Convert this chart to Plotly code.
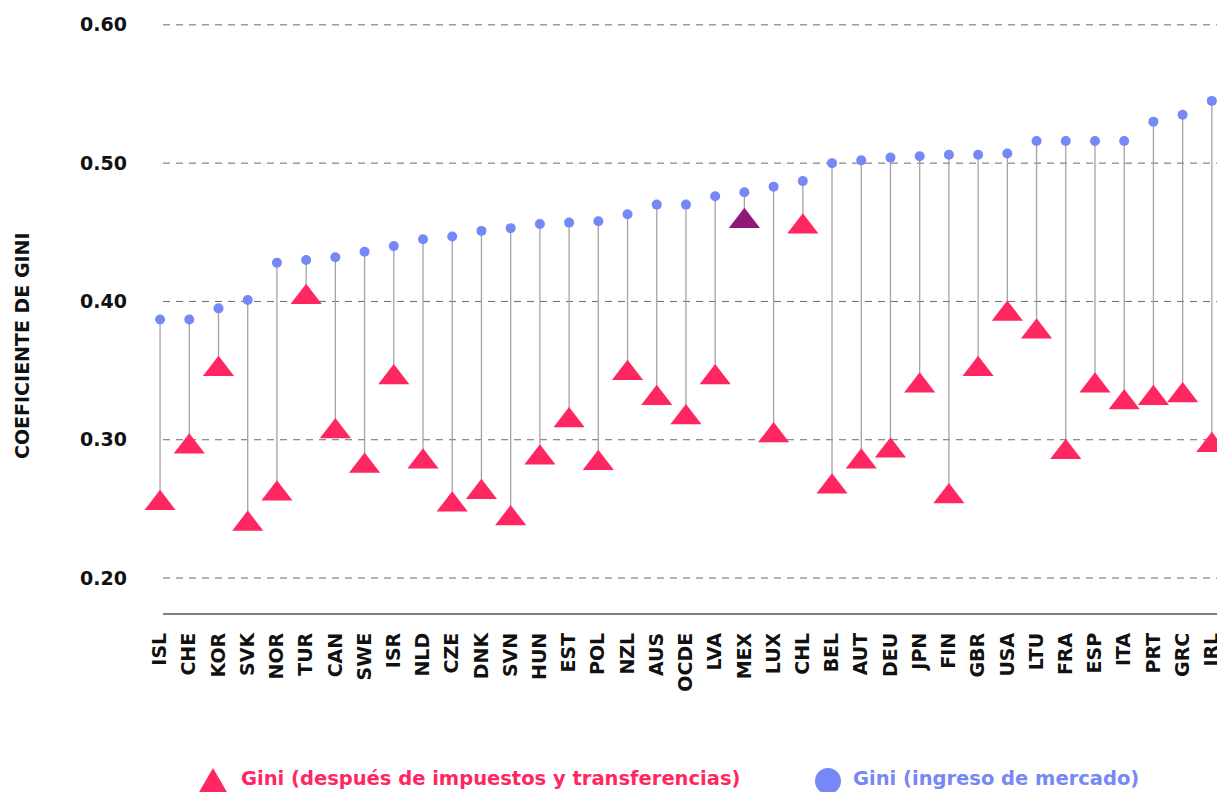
import plotly.graph_objects as go

countries = ["ISL", "CHE", "KOR", "SVK", "NOR", "TUR", "CAN", "SWE", "ISR", "NLD",
             "CZE", "DNK", "SVN", "HUN", "EST", "POL", "NZL", "AUS", "OCDE", "LVA",
             "MEX", "LUX", "CHL", "BEL", "AUT", "DEU", "JPN", "FIN", "GBR", "USA",
             "LTU", "FRA", "ESP", "ITA", "PRT", "GRC", "IRL"]

gini_market = [0.387, 0.387, 0.395, 0.401, 0.428, 0.430, 0.432, 0.436, 0.440, 0.445,
               0.447, 0.451, 0.453, 0.456, 0.457, 0.458, 0.463, 0.470, 0.470, 0.476,
               0.479, 0.483, 0.487, 0.500, 0.502, 0.504, 0.505, 0.506, 0.506, 0.507,
               0.516, 0.516, 0.516, 0.516, 0.530, 0.535, 0.545]

gini_after = [0.254, 0.295, 0.351, 0.239, 0.261, 0.403, 0.306, 0.281, 0.345, 0.284,
              0.253, 0.262, 0.243, 0.287, 0.314, 0.283, 0.348, 0.330, 0.316, 0.345,
              0.458, 0.303, 0.454, 0.266, 0.284, 0.292, 0.339, 0.259, 0.351, 0.391,
              0.378, 0.291, 0.339, 0.327, 0.330, 0.332, 0.296]

highlight = "MEX"

y_ticks = [0.20, 0.30, 0.40, 0.50, 0.60]
y_tick_labels = ["0.20", "0.30", "0.40", "0.50", "0.60"]

legend_after = "Gini (después de impuestos y transferencias)"
legend_market = "Gini (ingreso de mercado)"
y_title = "COEFICIENTE DE GINI"

PINK = "#ff2761"
BLUE = "#7687f6"
PURPLE = "#8f1878"
LINE = "#a3a3a3"
GRID = "#6a6a6a"

# connector lines
lx, ly = [], []
for c, m, a in zip(countries, gini_market, gini_after):
    lx += [c, c, None]
    ly += [m, a, None]

fig = go.Figure()
fig.add_trace(go.Scatter(x=lx, y=ly, mode="lines",
                         line=dict(color=LINE, width=1.3),
                         hoverinfo="skip", showlegend=False))
fig.add_trace(go.Scatter(x=countries, y=gini_market, mode="markers",
                         marker=dict(symbol="circle", size=10, color=BLUE),
                         name=legend_market, showlegend=False, cliponaxis=False))
tri_colors = [PURPLE if c == highlight else PINK for c in countries]
fig.add_trace(go.Scatter(x=countries, y=gini_after, mode="markers",
                         marker=dict(symbol="triangle-up", size=27, color=tri_colors,
                                     line=dict(width=0)),
                         name=legend_after, showlegend=False, cliponaxis=False))

# page offset (browser body margin) compensation
OFF = 8
W, H = 1225 - OFF, 792 - OFF
L, R, T, B = 144 - OFF, 0, 11 - OFF, 178
pw = W - L - R
ph = H - T - B

def px_x(p):
    return (p - OFF - L) / pw

def px_y(p):
    return (H - B - (p - OFF)) / ph

shapes = []
grid_x0 = px_x(163)
for v in y_ticks:
    shapes.append(dict(type="line", xref="paper", yref="y", x0=grid_x0, x1=1,
                       y0=v, y1=v, line=dict(color=GRID, width=1, dash="7px,6px"),
                       layer="below"))
shapes.append(dict(type="line", xref="paper", yref="paper", x0=grid_x0, x1=px_x(1218),
                   y0=0, y1=0, line=dict(color="#555555", width=1.3), layer="below"))

# legend symbols (pixel-sized shapes)
shapes.append(dict(type="path", xref="paper", yref="paper",
                   xsizemode="pixel", ysizemode="pixel",
                   xanchor=px_x(213), yanchor=px_y(781),
                   path="M -14.5,-12 L 14.5,-12 L 0,13 Z",
                   fillcolor=PINK, line=dict(width=0)))
shapes.append(dict(type="circle", xref="paper", yref="paper",
                   xsizemode="pixel", ysizemode="pixel",
                   xanchor=px_x(828), yanchor=px_y(781),
                   x0=-13, x1=13, y0=-13, y1=13,
                   fillcolor=BLUE, line=dict(width=0)))

annotations = [
    dict(text=y_title, textangle=-90, xref="paper", yref="paper",
         x=px_x(22), y=px_y(345), xanchor="center", yanchor="middle",
         showarrow=False, font=dict(family="DejaVu Sans", size=19, color="#111111",
                                    weight="bold")),
    dict(text=legend_after, xref="paper", yref="paper", x=px_x(239), y=px_y(778),
         xanchor="left", yanchor="middle", showarrow=False,
         font=dict(family="DejaVu Sans", size=19.5, color=PINK, weight="bold")),
    dict(text=legend_market, xref="paper", yref="paper", x=px_x(851), y=px_y(778),
         xanchor="left", yanchor="middle", showarrow=False,
         font=dict(family="DejaVu Sans", size=19.5, color=BLUE, weight="bold")),
]

fig.update_layout(
    width=W, height=H,
    margin=dict(l=L, r=R, t=T, b=B),
    paper_bgcolor="white", plot_bgcolor="white",
    showlegend=False,
    shapes=shapes,
    annotations=annotations,
    xaxis=dict(type="category", categoryorder="array", categoryarray=countries,
               range=[-0.55, 36.45], showgrid=False, zeroline=False, showline=False,
               tickangle=-90, ticks="", ticklabelstandoff=14,
               tickfont=dict(family="DejaVu Sans", size=19, color="#111111",
                             weight="bold")),
    yaxis=dict(range=[0.174, 0.61], tickvals=y_ticks, ticktext=y_tick_labels,
               showgrid=False, zeroline=False, showline=False, ticks="",
               ticklabelstandoff=16,
               tickfont=dict(family="DejaVu Sans", size=19, color="#111111",
                             weight="bold")),
)

fig.write_html("out.html")
